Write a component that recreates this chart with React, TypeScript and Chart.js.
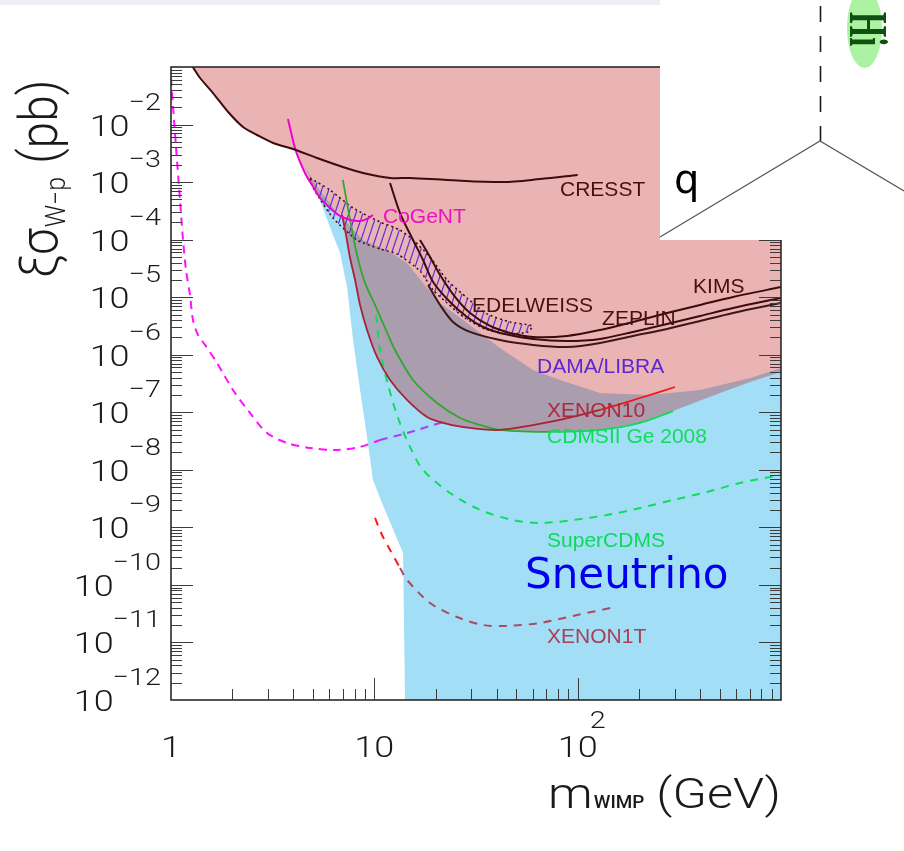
import React, { useEffect, useRef } from "react";
import { Chart, registerables } from "chart.js";

Chart.register(...registerables);

// ---------- axis ranges & ticks ----------
const X_MIN = 1;
const X_MAX = 1000;
const Y_MIN = 1e-12;
const Y_MAX = 1e-1;
const yTickExponents = [-2, -3, -4, -5, -6, -7, -8, -9, -10, -11, -12];
const xTickValues = [1, 10, 100];
const xTickBases = ["1", "10", "10"];
const xTickSups = ["", "", "2"];

// ---------- exclusion / sensitivity curves (mass GeV, sigma pb) ----------
const cresstMass = [1.28, 1.39, 1.61, 1.91, 2.26, 2.65, 3.18, 3.98, 5.23, 7.0, 8.8, 12.0, 15.0, 22.8, 43.0, 65.3, 100];
const cresstSigma = [1e-1, 6.44e-2, 3.53e-2, 1.65e-2, 9.06e-3, 6.58e-3, 4.78e-3, 3.76e-3, 2.62e-3, 1.83e-3, 1.44e-3, 1.18e-3, 1.18e-3, 1.09e-3, 1.0e-3, 1.13e-3, 1.33e-3];

const cogentMass = [3.76, 4.07, 4.31, 4.61, 4.94, 5.41, 6.05, 6.78, 7.6, 8.51, 9.21, 9.85];
const cogentSigma = [1.25e-2, 3.91e-3, 2.24e-3, 1.33e-3, 8.9e-4, 5.29e-4, 3.55e-4, 2.58e-4, 2.2e-4, 2.11e-4, 2.29e-4, 2.68e-4];

const edelweissMass = [11.95, 13.38, 15.5, 17.36, 19.45, 23.57, 28.58, 34.25, 41.5, 60.3, 88.7, 128.9, 187, 275, 400, 581, 1000];
const edelweissSigma = [9.65e-4, 2.9e-4, 9.86e-5, 4.43e-5, 1.84e-5, 8.25e-6, 4.53e-6, 3.03e-6, 2.39e-6, 1.88e-6, 1.73e-6, 1.88e-6, 2.49e-6, 3.42e-6, 4.71e-6, 6.49e-6, 9.68e-6];

const zeplinMass = [18.37, 21.05, 24.38, 29.56, 41.5, 60.3, 88.7, 128.9, 187, 275, 400, 581, 1000];
const zeplinSigma = [1.63e-5, 7.32e-6, 3.71e-6, 2.49e-6, 1.8e-6, 1.48e-6, 1.36e-6, 1.6e-6, 2.12e-6, 2.8e-6, 3.86e-6, 5.31e-6, 7.93e-6];

const kimsMass = [16.78, 18.79, 21.05, 24.94, 29.56, 37.1, 46.5, 60.3, 88.7, 128.9, 187, 275, 400, 581, 1000];
const kimsSigma = [9.86e-5, 4.99e-5, 2.43e-5, 1.01e-5, 5.31e-6, 3.16e-6, 2.39e-6, 2.03e-6, 2.12e-6, 2.69e-6, 3.71e-6, 5.31e-6, 7.32e-6, 1.01e-5, 1.5e-5];

const xenon10Mass = [6.94, 7.26, 7.6, 8.04, 8.51, 9.21, 10.31, 11.95, 14.48, 18.16, 22.79, 29.56, 41.5, 73.1, 128.9, 202.7, 301];
const xenon10Sigma = [2.68e-4, 1.2e-4, 4.8e-5, 1.99e-5, 7.32e-6, 2.69e-6, 9.14e-7, 3.64e-7, 1.64e-7, 8.29e-8, 6.26e-8, 5.34e-8, 4.93e-8, 6.78e-8, 1.1e-7, 1.77e-7, 2.75e-7];

const cdmsMass = [7.0, 7.6, 8.22, 9.0, 10.08, 11.29, 12.64, 15.5, 20.34, 26.4, 33.1, 41.5, 73.1, 128.9, 202.7, 294.5];
const cdmsSigma = [1.09e-3, 2.2e-4, 5.41e-5, 1.77e-5, 7.32e-6, 2.92e-6, 1.21e-6, 3.64e-7, 1.45e-7, 7.96e-8, 6.02e-8, 4.93e-8, 4.55e-8, 4.93e-8, 6.52e-8, 1.05e-7];

const lowMassMass = [1.0, 1.035, 1.07, 1.107, 1.146, 1.185, 1.24, 1.283, 1.358, 1.47, 1.684, 2.018, 2.447, 2.967, 3.721, 4.83, 6.55, 8.51, 10.67];
const lowMassSigma = [6.44e-2, 1.2e-2, 2.42e-3, 4.89e-4, 9.86e-5, 2.97e-5, 1.09e-5, 4.02e-6, 2.2e-6, 1.48e-6, 7.19e-7, 2.44e-7, 9.72e-8, 4.37e-8, 2.93e-8, 2.4e-8, 2.21e-8, 2.5e-8, 3.3e-8];
const lowMassTailMass = [10.67, 14.48, 21.05, 22.79];
const lowMassTailSigma = [3.3e-8, 4.37e-8, 6.52e-8, 7.06e-8];

const superCdmsMass = [10.19, 10.67, 11.68, 13.08, 14.98, 17.36, 23.57, 33.1, 48.1, 65.3, 94.9, 139.5, 202.7, 294.5, 433, 629, 1000];
const superCdmsSigma = [4.91e-6, 1.21e-6, 2.98e-7, 7.96e-8, 2.5e-8, 9.94e-9, 3.96e-9, 2.01e-9, 1.34e-9, 1.19e-9, 1.34e-9, 1.64e-9, 2.17e-9, 2.99e-9, 4.12e-9, 5.91e-9, 8.14e-9];

const xenon1tLowMass = [10.08, 10.91, 11.95, 13.38];
const xenon1tLowSigma = [1.46e-9, 7.38e-10, 4.05e-10, 1.97e-10];
const xenon1tMass = [13.38, 14.48, 18.79, 25.5, 34.25, 45.0, 65.3, 94.9, 152.8];
const xenon1tSigma = [1.97e-10, 1.22e-10, 4.86e-11, 2.77e-11, 2.01e-11, 1.94e-11, 2.18e-11, 2.89e-11, 4.14e-11];

// ---------- regions (closed outlines) ----------
const excludedMass = [1.283, 1000, 1000, 705, 501, 294.5, 202.7, 128.9, 73.1, 41.5, 29.56, 22.79, 18.16, 14.48, 11.95, 10.31, 9.21, 8.51, 8.04, 7.6, 7.26, 6.94, 6.05, 5.41, 4.94, 4.61, 4.31, 4.07, 3.98, 3.18, 2.65, 2.26, 1.91, 1.61, 1.39, 1.283];
const excludedSigma = [1e-1, 1e-1, 5.01e-7, 3.36e-7, 2.16e-7, 1.05e-7, 6.52e-8, 4.93e-8, 4.55e-8, 4.93e-8, 5.34e-8, 6.26e-8, 8.29e-8, 1.64e-7, 3.64e-7, 9.14e-7, 2.69e-6, 7.32e-6, 1.99e-5, 4.8e-5, 1.2e-4, 2.68e-4, 3.55e-4, 5.29e-4, 8.9e-4, 1.33e-3, 2.24e-3, 3.91e-3, 3.76e-3, 4.78e-3, 6.58e-3, 9.06e-3, 1.65e-2, 3.53e-2, 6.44e-2, 1e-1];

const sneutrinoMass = [4.51, 5.28, 6.41, 8.8, 11.95, 14.48, 17.36, 21.05, 28.58, 41.5, 60.3, 81.9, 128.9, 227, 400, 705, 1000, 1000, 14.16, 13.84, 10.91, 9.85, 9.21, 8.51, 7.86, 7.34, 6.78, 6.05, 5.23, 4.51];
const sneutrinoSigma = [1.98e-3, 7.9e-4, 3.27e-4, 9.86e-5, 6.1e-5, 3.93e-5, 1.77e-5, 7.93e-6, 3.56e-6, 1.31e-6, 5.43e-7, 3.64e-7, 2.16e-7, 2.0e-7, 2.44e-7, 3.94e-7, 5.89e-7, 1e-12, 1e-12, 3.59e-10, 2.65e-9, 6.66e-9, 3.72e-8, 2.44e-7, 1.8e-6, 1.5e-5, 5.86e-5, 1.66e-4, 6.46e-4, 1.98e-3];

const damaMass = [4.83, 6.05, 7.86, 10.67, 13.38, 15.5, 18.79, 22.79, 28.58, 35.85, 46.5, 59.7, 57.0, 45.0, 35.0, 27.9, 22.79, 19.45, 16.78, 12.93, 10.67, 8.22, 6.26, 5.0, 4.83];
const damaSigma = [1.18e-3, 7.29e-4, 3.55e-4, 2.03e-4, 1.47e-4, 9.86e-5, 4.99e-5, 1.99e-5, 9.68e-6, 5.1e-6, 3.71e-6, 3.16e-6, 2.49e-6, 2.29e-6, 2.8e-6, 4.35e-6, 7.93e-6, 1.33e-5, 2.85e-5, 5.63e-5, 6.88e-5, 9.86e-5, 2.38e-4, 7.9e-4, 1.18e-3];

// ---------- curve labels (anchor: left x, baseline y in data units) ----------
const labelTexts = ["CRESST", "CoGeNT", "EDELWEISS", "ZEPLIN", "KIMS", "DAMA/LIBRA", "XENON10", "CDMSII Ge 2008", "SuperCDMS", "Sneutrino", "XENON1T"];
const labelMass = [81.9, 11.03, 30.24, 131.8, 369.6, 63.1, 70.7, 70.7, 70.7, 55.1, 70.7];
const labelSigma = [5.73e-4, 1.95e-4, 5.53e-6, 3.29e-6, 1.18e-5, 4.82e-7, 8.29e-8, 2.93e-8, 4.56e-10, 8.85e-11, 9.8e-12];
const labelColors = ["#4a1010", "#ee10c0", "#4a1010", "#4a1010", "#4a1010", "#5a28d2", "#b0283c", "#10dc5a", "#10d85c", "#0000ee", "#a84058"];
const labelSizes = [21, 21, 21, 21, 21, 21, 21, 21, 21, 42, 21];
const labelFamilies = ["r", "r", "r", "r", "r", "r", "r", "r", "r", "d", "r"];

const pts = (xs: number[], ys: number[]) => xs.map((x, i) => ({ x, y: ys[i] }));

const TFONT = 'Roboto, "Liberation Sans", Arial, sans-serif';
const LFONT = '"DejaVu Sans", Verdana, sans-serif';
const RFONT = '"Liberation Sans", Arial, sans-serif';
const SX = 1.2;

function sText(ctx: CanvasRenderingContext2D, text: string, x: number, y: number, font: string, align: "left" | "right" | "center", color: string, sx = SX) {
  ctx.save();
  ctx.font = font;
  ctx.fillStyle = color;
  ctx.textBaseline = "alphabetic";
  ctx.textAlign = align;
  ctx.translate(x, y);
  ctx.scale(sx, 1);
  ctx.fillText(text, 0, 0);
  ctx.restore();
}
function sWidth(ctx: CanvasRenderingContext2D, text: string, font: string, sx = SX) {
  ctx.save();
  ctx.font = font;
  const w = ctx.measureText(text).width * sx;
  ctx.restore();
  return w;
}

const rootAxesPlugin = {
  id: "rootAxes",
  afterDatasetsDraw(chart: any) {
    const ctx: CanvasRenderingContext2D = chart.ctx;
    const a = chart.chartArea;
    const xs = chart.scales.x;
    const ys = chart.scales.y;
    ctx.save();
    // ticks (inside, ROOT style)
    ctx.strokeStyle = "#3c3c3c";
    ctx.lineWidth = 1;
    ctx.beginPath();
    for (let d = 1; d < X_MAX; d *= 10) {
      for (let m = 1; m < 10; m++) {
        const v = d * m;
        if (v <= X_MIN || v >= X_MAX) continue;
        const px = Math.round(xs.getPixelForValue(v)) + 0.5;
        const len = m === 1 ? 22 : 11;
        ctx.moveTo(px, a.bottom);
        ctx.lineTo(px, a.bottom - len);
      }
    }
    for (let e = -12; e <= -2; e++) {
      for (let m = 1; m < 10; m++) {
        const v = m * Math.pow(10, e);
        if (v <= Y_MIN * 1.001 || v >= Y_MAX * 0.999) continue;
        const py = Math.round(ys.getPixelForValue(v)) + 0.5;
        const len = m === 1 ? 22 : 11;
        ctx.moveTo(a.left, py);
        ctx.lineTo(a.left + len, py);
        ctx.moveTo(a.right, py);
        ctx.lineTo(a.right - len, py);
      }
    }
    ctx.stroke();
    // frame
    ctx.lineWidth = 1.6;
    ctx.strokeStyle = "#2a2a2a";
    ctx.strokeRect(a.left, a.top, a.right - a.left, a.bottom - a.top);

    // y tick labels
    const baseFont = `300 30px ${TFONT}`;
    const expFont = `300 24px ${TFONT}`;
    const col = "#1a1a1a";
    for (const e of yTickExponents) {
      const py = ys.getPixelForValue(Math.pow(10, e));
      const expStr = "\u2212" + Math.abs(e);
      const ew = sWidth(ctx, expStr, expFont);
      const right = a.left - 10;
      sText(ctx, expStr, right, py - 15, expFont, "right", col);
      sText(ctx, "10", right - ew + 1, py + 11, baseFont, "right", col);
    }
    // x tick labels
    xTickValues.forEach((v, i) => {
      const px = xs.getPixelForValue(v);
      const base = xTickBases[i];
      const by = a.bottom + 57;
      sText(ctx, base, px, by, baseFont, "center", col);
      if (xTickSups[i]) {
        const bw = sWidth(ctx, base, baseFont);
        sText(ctx, xTickSups[i], px + bw / 2 - 8, by - 29, expFont, "left", col);
      }
    });

    // x axis title: m_WIMP (GeV)
    const tFont = `300 42px ${TFONT}`;
    const subFont = `500 18px ${TFONT}`;
    const ty = a.bottom + 108;
    const gevW = sWidth(ctx, "(GeV)", tFont);
    const gevLeft = a.right - gevW;
    sText(ctx, "(GeV)", gevLeft, ty, tFont, "left", col);
    const wimpW = sWidth(ctx, "WIMP", subFont, 1.05);
    const wimpLeft = gevLeft - 12 - wimpW;
    sText(ctx, "WIMP", wimpLeft, ty, subFont, "left", col, 1.05);
    sText(ctx, "m", wimpLeft - 1, ty, tFont, "right", col);

    // y axis title: xi sigma_{W-p} (pb), rotated
    ctx.save();
    ctx.translate(57, a.top + 211);
    ctx.rotate(-Math.PI / 2);
    ctx.scale(1, 1.1);
    ctx.fillStyle = col;
    ctx.textAlign = "left";
    const yFont = `300 48px ${TFONT}`;
    ctx.font = yFont;
    let cx = 0;
    ctx.fillText("\u03BE\u03C3", cx, 0);
    cx += ctx.measureText("\u03BE\u03C3").width + 1;
    ctx.font = `300 25px ${TFONT}`;
    ctx.fillText("W\u2212p", cx, 7);
    cx += ctx.measureText("W\u2212p").width + 13;
    ctx.font = yFont;
    ctx.fillText("(pb)", cx, 0);
    ctx.restore();

    // curve labels
    labelTexts.forEach((t, i) => {
      const px = xs.getPixelForValue(labelMass[i]);
      const py = ys.getPixelForValue(labelSigma[i]);
      const fam = labelFamilies[i] === "d" ? LFONT : RFONT;
      sText(ctx, t, px, py, `${labelSizes[i]}px ${fam}`, "left", labelColors[i], 1.0);
    });
    ctx.restore();
  },
};

const overlayPlugin = {
  id: "slideOverlay",
  afterDraw(chart: any) {
    const ctx: CanvasRenderingContext2D = chart.ctx;
    ctx.save();
    // top band of the slide
    ctx.fillStyle = "#eceef9";
    ctx.fillRect(0, 0, 660, 5);
    // white panel covering the top-right
    ctx.fillStyle = "#ffffff";
    ctx.fillRect(660, 0, 244, 240);
    // Feynman-like diagram
    ctx.strokeStyle = "#1a1a1a";
    ctx.lineWidth = 1.6;
    ctx.setLineDash([16, 14]);
    ctx.beginPath();
    ctx.moveTo(820.5, 6);
    ctx.lineTo(820.5, 141);
    ctx.stroke();
    ctx.setLineDash([]);
    ctx.strokeStyle = "#555555";
    ctx.lineWidth = 1.2;
    ctx.beginPath();
    ctx.moveTo(660, 237);
    ctx.lineTo(820, 141);
    ctx.lineTo(904, 191);
    ctx.stroke();
    // q label
    ctx.fillStyle = "#000000";
    ctx.font = `40px ${LFONT}`;
    ctx.textAlign = "left";
    ctx.fillText("q", 674, 193);
    // green blob with rotated text
    ctx.fillStyle = "rgba(150,240,140,0.8)";
    ctx.beginPath();
    ctx.ellipse(864.5, 28, 17.5, 40, 0, 0, Math.PI * 2);
    ctx.fill();
    ctx.save();
    ctx.translate(850, 12);
    ctx.rotate(Math.PI / 2);
    ctx.scale(0.6, 1);
    ctx.fillStyle = "#0f4f0f";
    ctx.font = `bold 54px "Liberation Serif", "DejaVu Serif", serif`;
    ctx.textAlign = "left";
    ctx.fillText("Hi", 0, 0);
    ctx.restore();
    ctx.restore();
  },
};

function makeHatch(): CanvasPattern | string {
  const c = document.createElement("canvas");
  c.width = 7;
  c.height = 21;
  const p = c.getContext("2d");
  if (!p) return "rgba(90,50,220,0.4)";
  p.strokeStyle = "rgb(90,50,220)";
  p.lineWidth = 1.2;
  p.beginPath();
  for (const off of [-7, 0, 7]) {
    p.moveTo(7 + off, 0);
    p.lineTo(0 + off, 21);
  }
  p.stroke();
  const pat = p.createPattern(c, "repeat");
  return pat || "rgba(90,50,220,0.4)";
}

export default function App() {
  const ref = useRef<HTMLCanvasElement | null>(null);

  useEffect(() => {
    if (!ref.current) return;
    const hatch = makeHatch();
    const line = (data: any, color: string, width: number, order: number, dash: number[] = [], tension = 0.3, endColor = "", endFrom = 0) => ({
      data,
      showLine: true,
      borderColor: color,
      borderWidth: width,
      borderDash: dash,
      pointRadius: 0,
      fill: false,
      tension,
      order,
      segment: endColor
        ? { borderColor: (c: any) => (c.p0.parsed.x >= endFrom ? endColor : color) }
        : undefined,
    });
    const chart = new Chart(ref.current, {
      type: "scatter",
      data: {
        datasets: [
          {
            data: pts(sneutrinoMass, sneutrinoSigma),
            showLine: true,
            borderWidth: 0,
            borderColor: "rgba(0,0,0,0)",
            backgroundColor: "rgb(162,223,247)",
            fill: "shape",
            pointRadius: 0,
            tension: 0,
            order: 100,
          },
          {
            data: pts(excludedMass, excludedSigma),
            showLine: true,
            borderWidth: 0,
            borderColor: "rgba(0,0,0,0)",
            backgroundColor: "rgba(188,8,8,0.3)",
            fill: "shape",
            pointRadius: 0,
            tension: 0,
            order: 90,
          },
          {
            data: pts(damaMass, damaSigma),
            showLine: true,
            borderWidth: 1.6,
            borderColor: "#4a1010",
            borderDash: [2, 3],
            backgroundColor: hatch,
            fill: "shape",
            pointRadius: 0,
            tension: 0.2,
            order: 80,
          },
          line(pts(cresstMass, cresstSigma), "#3c0c0c", 2, 10),
          line(pts(edelweissMass, edelweissSigma), "#3c0c0c", 2, 10),
          line(pts(zeplinMass, zeplinSigma), "#3a1818", 2, 10),
          line(pts(kimsMass, kimsSigma), "#3c0c0c", 2, 10),
          line(pts(cogentMass, cogentSigma), "#f000d0", 2, 10),
          line(pts(xenon10Mass, xenon10Sigma), "#aa2038", 1.8, 10, [], 0.3, "#f01818", 128),
          line(pts(cdmsMass, cdmsSigma), "#30a830", 1.8, 10, [], 0.3, "#10d858", 73),
          line(pts(lowMassMass, lowMassSigma), "#ff10ff", 2, 10, [8, 6]),
          line(pts(lowMassTailMass, lowMassTailSigma), "#a840ff", 2, 10, [8, 6]),
          line(pts(superCdmsMass, superCdmsSigma), "#10dc5a", 2, 10, [8, 7]),
          line(pts(xenon1tLowMass, xenon1tLowSigma), "#ff1818", 2, 10, [8, 7]),
          line(pts(xenon1tMass, xenon1tSigma), "#aa4a62", 2, 10, [8, 7]),
        ],
      },
      options: {
        responsive: false,
        animation: false,
        events: [],
        layout: { padding: { left: 171, right: 123, top: 67, bottom: 151 } },
        scales: {
          x: { type: "logarithmic", min: X_MIN, max: X_MAX, display: false },
          y: { type: "logarithmic", min: Y_MIN, max: Y_MAX, display: false },
        },
        plugins: {
          legend: { display: false },
          tooltip: { enabled: false },
          filler: { drawTime: "beforeDatasetsDraw" },
        } as any,
      },
      plugins: [rootAxesPlugin, overlayPlugin],
    } as any);
    return () => chart.destroy();
  }, []);

  return (
    <div style={{ position: "absolute", left: 0, top: 0, width: 904, height: 851, background: "#fff" }}>
      <canvas ref={ref} width={904} height={851} style={{ display: "block" }} />
    </div>
  );
}
